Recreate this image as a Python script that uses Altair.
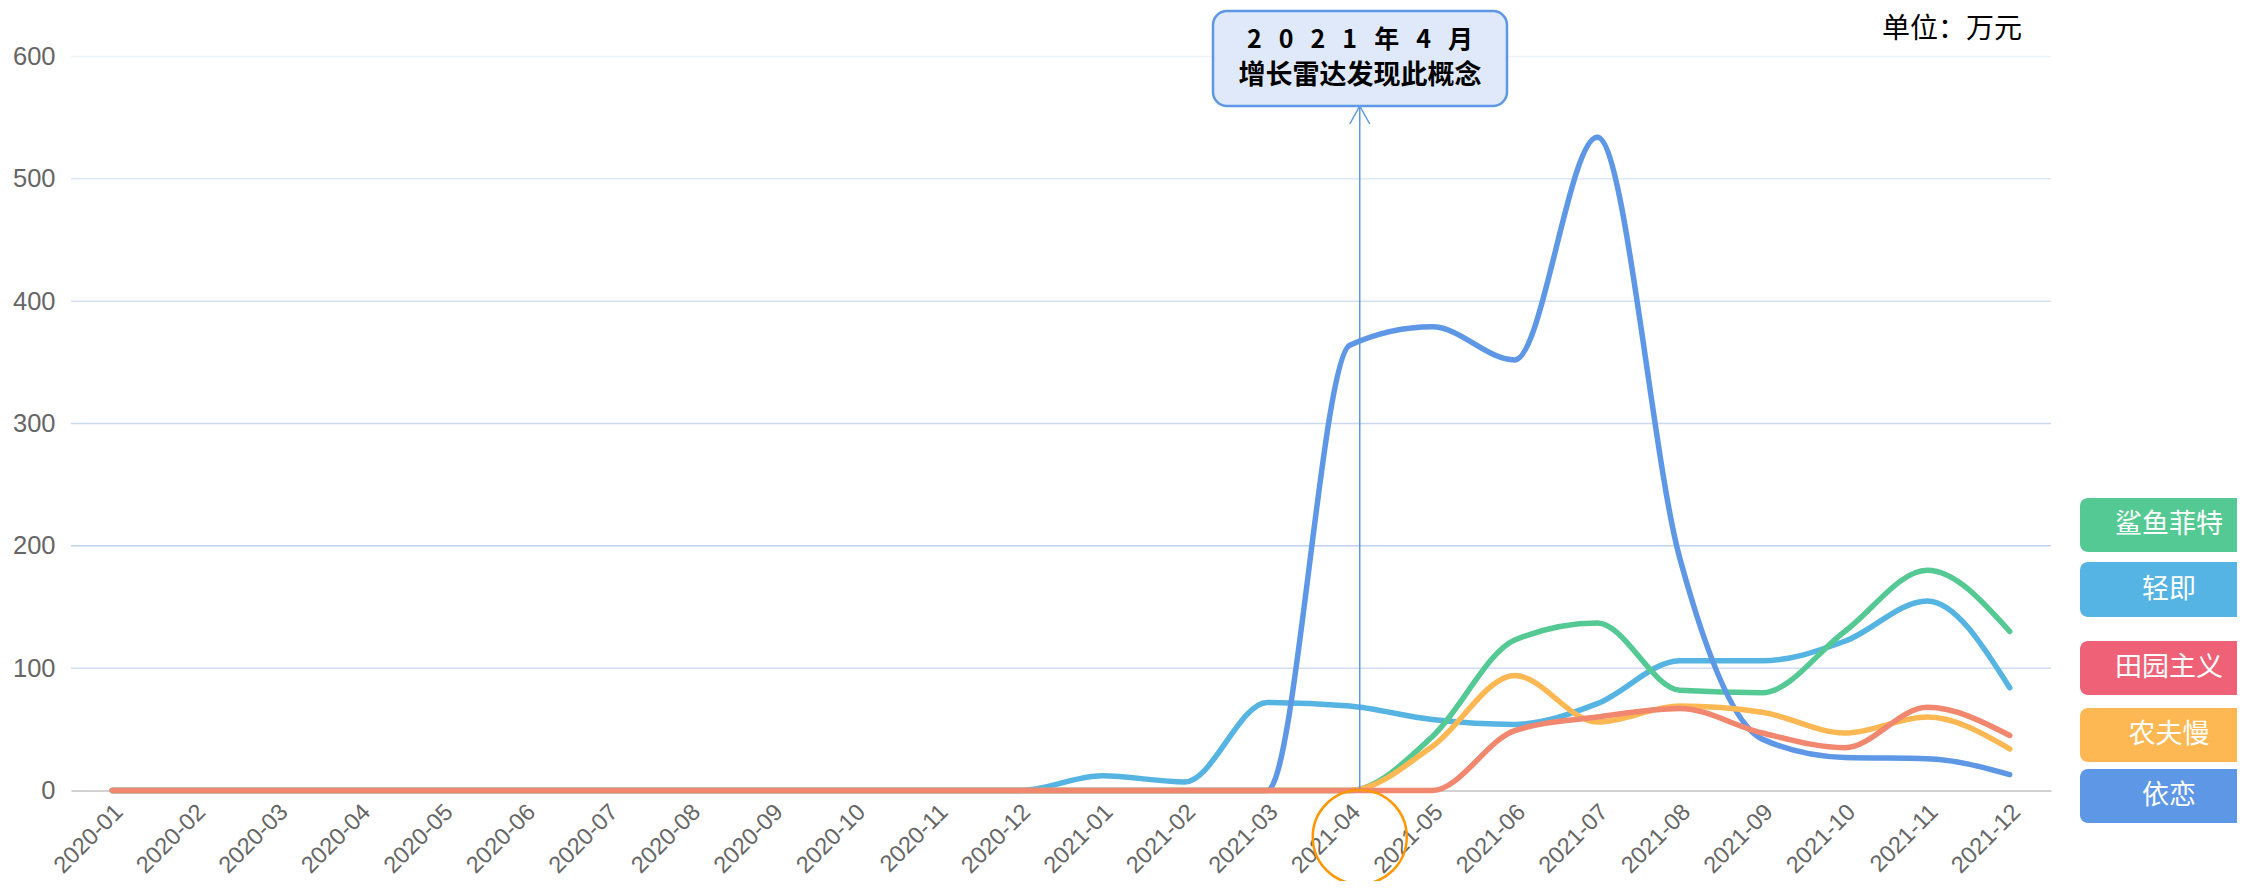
import altair as alt
import pandas as pd

months = ["2020-01", "2020-02", "2020-03", "2020-04", "2020-05", "2020-06",
          "2020-07", "2020-08", "2020-09", "2020-10", "2020-11", "2020-12",
          "2021-01", "2021-02", "2021-03", "2021-04", "2021-05", "2021-06",
          "2021-07", "2021-08", "2021-09", "2021-10", "2021-11", "2021-12"]

qingji = [0, 0, 0, 0, 0, 0, 0, 0, 0, 0, 0, 0,
          12, 7, 72, 69, 58, 54, 71, 106, 106, 122, 155, 84]
shayu = [0, 0, 0, 0, 0, 0, 0, 0, 0, 0, 0, 0,
         0, 0, 0, 0, 44, 123, 137, 82, 80, 130, 180, 130]
yilian = [0, 0, 0, 0, 0, 0, 0, 0, 0, 0, 0, 0,
          0, 0, 0, 364, 379, 352, 534, 190, 42, 27, 26, 13]
nongfu = [0, 0, 0, 0, 0, 0, 0, 0, 0, 0, 0, 0,
          0, 0, 0, 0, 36, 94, 56, 69, 64, 47, 60, 34]
tianyuan = [0, 0, 0, 0, 0, 0, 0, 0, 0, 0, 0, 0,
            0, 0, 0, 0, 0, 49, 60, 67, 47, 35, 68, 45]

# drawing order (first = bottom)
series_names = ["轻即", "鲨鱼菲特", "依恋", "农夫慢", "田园主义"]
series_values = [qingji, shayu, yilian, nongfu, tianyuan]
line_colors = ["#56b4e3", "#55c993", "#5e97e6", "#fdb853", "#f0876e"]

legend_names = ["鲨鱼菲特", "轻即", "田园主义", "农夫慢", "依恋"]
legend_colors = ["#55c993", "#56b4e4", "#ee6177", "#fdb853", "#5e97e6"]
legend_y = [(441.5, 495.5), (505.5, 560.5), (584.5, 638.5), (651.5, 705.5), (712.5, 766.5)]

grid_values = [100, 200, 300, 400, 500, 600]
grid_colors = ["#d0def5", "#bfd2f0", "#c9d9f3", "#d3e0f6", "#dfe8f8", "#eef3fb"]

annot_month = ["2021-04"]
NB = "\u00a0\u00a0\u00a0"
annot_line1 = NB.join(["2", "0", "2", "1", "年", "4", "月"])
annot_line2 = "增长雷达发现此概念"
unit_text = "单位：万元"

W, H = 1980, 734

rows = []
for name, vals in zip(series_names, series_values):
    for m, v in zip(months, vals):
        rows.append({"month": m, "series": name, "value": v})
df = pd.DataFrame(rows)

x_enc = alt.X("month:O", scale=alt.Scale(type="point", padding=0.5, domain=months),
              axis=alt.Axis(title=None, labelAngle=-45, labelFontSize=23.5, labelColor="#666666",
                            labelFont="Liberation Sans", ticks=False, domainColor="#d2d2d2",
                            domainWidth=2, labelPadding=9, labelOffset=-2, grid=False))
y_scale = alt.Scale(domain=[0, 600], nice=False)
y_enc = alt.Y("value:Q", scale=y_scale,
              axis=alt.Axis(title=None, values=[0, 100, 200, 300, 400, 500, 600], grid=False,
                            domain=False, ticks=False, labelFontSize=25.5, labelColor="#666666",
                            labelFont="Liberation Sans", labelPadding=16))

grid_df = pd.DataFrame({"value": grid_values, "c": grid_colors})
grid = alt.Chart(grid_df).mark_rule(strokeWidth=1.5).encode(
    y=alt.Y("value:Q", scale=y_scale),
    color=alt.Color("c:N", scale=None),
)

layers = [grid]
for name, col in zip(series_names, line_colors):
    layers.append(
        alt.Chart(df).transform_filter(alt.datum.series == name).mark_line(
            interpolate="monotone", strokeWidth=5.5, color=col, strokeCap="round",
            strokeJoin="round"
        ).encode(x=x_enc, y=y_enc)
    )

one = pd.DataFrame({"month": annot_month})

arrow_line = alt.Chart(one).mark_rule(color="#5e97e6", strokeWidth=1.5, xOffset=10).encode(
    x=alt.X("month:O"), y=alt.value(49.5), y2=alt.value(H))
arrow_head = alt.Chart(one).mark_point(
    shape="M-1,0.9L0,-0.9L1,0.9", filled=False, size=400, color="#5e97e6",
    strokeWidth=1.5, xOffset=10, opacity=1
).encode(x=alt.X("month:O"), y=alt.value(58.5))
circle = alt.Chart(one).mark_point(
    shape="circle", filled=False, size=8836, color="#ff9800", strokeWidth=2.5,
    xOffset=10, opacity=1
).encode(x=alt.X("month:O"), y=alt.value(780.5))

box = alt.Chart(one).mark_rect(
    fill="#dfe9f9", stroke="#5e97e6", strokeWidth=2.5, cornerRadius=14
).encode(x=alt.value(1142), x2=alt.value(1436), y=alt.value(-45.5), y2=alt.value(49.5))
t1 = alt.Chart(one).mark_text(
    text=annot_line1, font="Noto Sans CJK SC", fontWeight="bold", fontSize=25,
    color="#000000", align="center", baseline="middle"
).encode(x=alt.value(1289), y=alt.value(-16.5))
t2 = alt.Chart(one).mark_text(
    text=annot_line2, font="Noto Sans CJK SC", fontWeight="bold", fontSize=27,
    color="#000000", align="center", baseline="middle"
).encode(x=alt.value(1289), y=alt.value(19.5))
unit = alt.Chart(one).mark_text(
    text=unit_text, font="Noto Sans CJK SC", fontSize=28, color="#000000",
    align="right", baseline="top"
).encode(x=alt.value(1951), y=alt.value(-41))

layers += [arrow_line, arrow_head, circle, box, t1, t2, unit]

for name, col, (y0, y1) in zip(legend_names, legend_colors, legend_y):
    layers.append(alt.Chart(one).mark_rect(fill=col, cornerRadius=8).encode(
        x=alt.value(2009), x2=alt.value(2190), y=alt.value(y0), y2=alt.value(y1)))
    layers.append(alt.Chart(one).mark_text(
        text=name, font="Noto Sans CJK SC", fontSize=27, color="#ffffff",
        align="center", baseline="middle"
    ).encode(x=alt.value(2098), y=alt.value((y0 + y1) / 2)))

chart = alt.layer(*layers).properties(
    width=W, height=H,
    padding={"left": 63, "top": 48.5, "right": 186, "bottom": 90},
    autosize=alt.AutoSizeParams(type="none"),
).configure(background="#ffffff").configure_view(stroke=None)

chart.save("out.html", embed_options={"renderer": "svg", "actions": False})
